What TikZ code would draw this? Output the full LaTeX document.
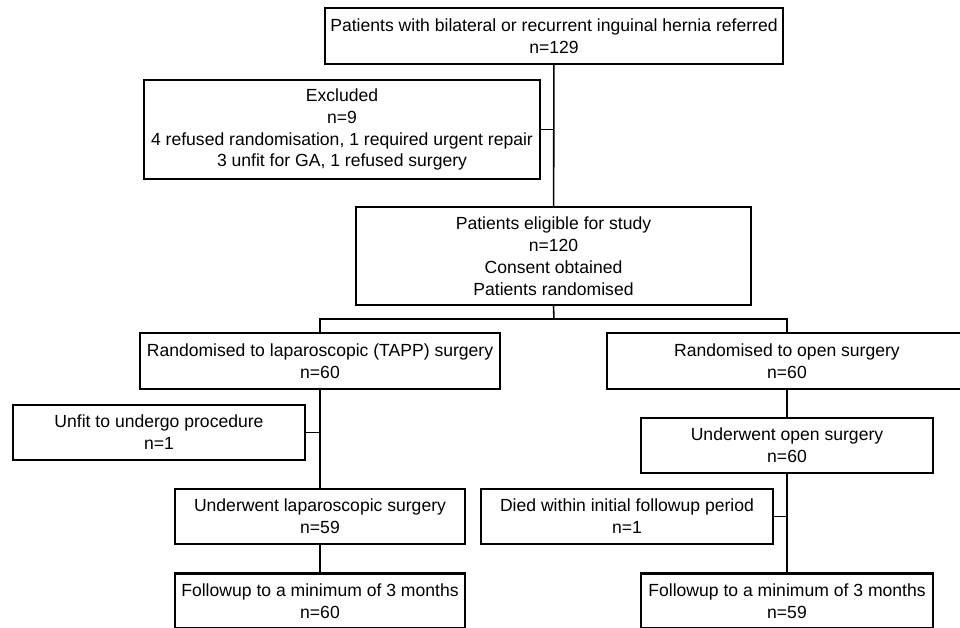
\documentclass[tikz,border=0pt]{standalone}
\usepackage{fontspec}
\setmainfont{Liberation Sans}
\usepackage{tikz}
\usetikzlibrary{positioning}

\begin{document}
\begin{tikzpicture}[x=0.02cm, y=-0.02cm, line width=1.4pt,
    every node/.style={draw, align=center, inner sep=0pt, font=\fontsize{10}{12.5}\selectfont},
    caja/.style={minimum width=5.84cm, minimum height=1.1cm},
    linea/.style={line width=0.9pt}]
  \useasboundingbox (0,0) rectangle (960,627);
  % Nodos
  \node(top) at (554,36) [minimum width=9.16cm, minimum height=1.12cm] {Patients with bilateral or recurrent inguinal hernia referred\\n=129};
  \node(excl) at (342,129.5) [minimum width=7.92cm, minimum height=1.98cm] {Excluded\\n=9\\4 refused randomisation, 1 required urgent repair\\3 unfit for GA, 1 refused surgery};
  \node(elig) at (553.5,256) [minimum width=7.9cm, minimum height=1.96cm] {Patients eligible for study\\n=120\\Consent obtained\\Patients randomised};
  \node(lap) at (320,361) [minimum width=7.2cm, minimum height=1.12cm] {Randomised to laparoscopic (TAPP) surgery\\n=60};
  \node(open) at (787,361) [minimum width=7.2cm, minimum height=1.12cm] {Randomised to open surgery\\n=60};
  \node(unfit) at (159,432.5) [caja] {Unfit to undergo procedure\\n=1};
  \node(ulap) at (320,516.5) [caja, minimum width=5.8cm] {Underwent laparoscopic surgery\\n=59};
  \node(uopen) at (787,445.5) [caja] {Underwent open surgery\\n=60};
  \node(died) at (627,516.5) [caja] {Died within initial followup period\\n=1};
  \node(fl) at (320,601) [caja, minimum width=5.8cm] {Followup to a minimum of 3 months\\n=60};
  \node(fr) at (787,601) [caja] {Followup to a minimum of 3 months\\n=59};
  \coordinate(split) at (554,319);

  % Aristas
  \draw[linea] (top) -- (elig);
  \draw[linea] (excl.east) -- (excl.east -| top);
  \draw[linea] (elig.south) -- (split);
  \draw[linea] (lap.north) |- (split) -| (open.north);
  \draw[linea] (lap) -- (ulap);
  \draw[linea] (unfit.east) -- (unfit.east -| lap);
  \draw[linea] (ulap) -- (fl);
  \draw[linea] (open) -- (uopen);
  \draw[linea] (uopen) -- (fr);
  \draw[linea] (died.east) -- (died.east -| uopen);
\end{tikzpicture}
\end{document}
